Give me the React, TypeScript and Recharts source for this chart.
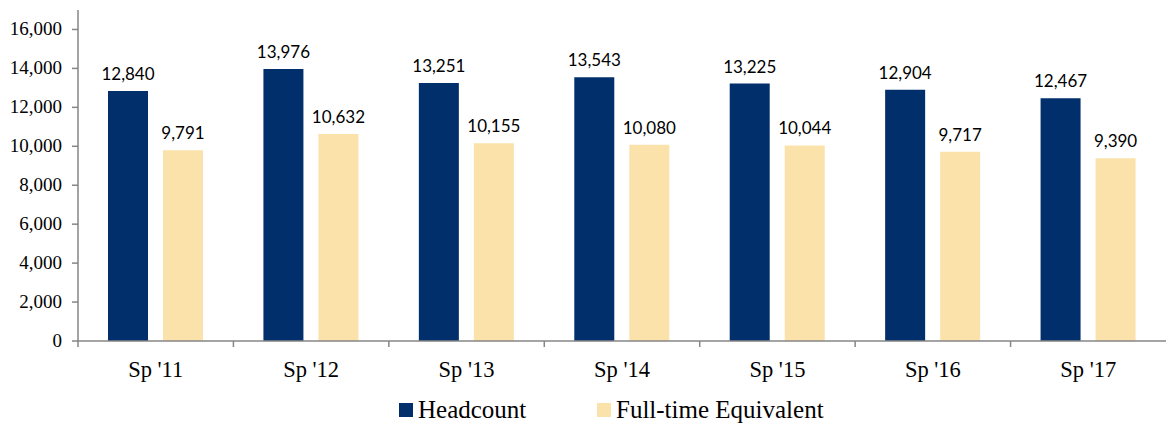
import React from 'react';
import { BarChart, Bar, XAxis, YAxis, Legend, LabelList } from 'recharts';

const categories = ["Sp '11", "Sp '12", "Sp '13", "Sp '14", "Sp '15", "Sp '16", "Sp '17"];
const headcount = [12840, 13976, 13251, 13543, 13225, 12904, 12467];
const fte = [9791, 10632, 10155, 10080, 10044, 9717, 9390];
const yTicks = [0, 2000, 4000, 6000, 8000, 10000, 12000, 14000, 16000];

const NAVY = '#002F6C';
const CREAM = '#FBE2AA';
const AXIS = '#868686';
const SERIF = '"Liberation Serif", "Times New Roman", serif';
const SANS = 'Lato, "Open Sans", sans-serif';

const W = 1166;
const H = 424;
const Y_AXIS_W = 78;
const BAND = (W - Y_AXIS_W) / categories.length;

const data = categories.map((c, i) => ({ cat: c, headcount: headcount[i], fte: fte[i] }));

const fmt = (v: any) => Number(v).toLocaleString('en-US');

const CatTick = ({ x, y, payload }: any) => (
  <g>
    <line x1={x - BAND / 2} x2={x - BAND / 2} y1={y} y2={y + 6} stroke={AXIS} strokeWidth={1.5} />
    <text x={x} y={y + 36} textAnchor="middle" fill="#000" style={{ fontFamily: SERIF, fontSize: 22.5 }}>
      {payload.value}
    </text>
  </g>
);

const ValTick = ({ x, y, payload }: any) => (
  <text x={x} y={y + 6} textAnchor="end" fill="#000" style={{ fontFamily: SERIF, fontSize: 19 }}>
    {fmt(payload.value)}
  </text>
);

const LegendBox = () => (
  <div style={{ position: 'relative', height: 43, fontFamily: SERIF, fontSize: 25, color: '#000' }}>
    {[
      { label: 'Headcount', color: NAVY, left: 399 },
      { label: 'Full-time Equivalent', color: CREAM, left: 597 },
    ].map((it) => (
      <div key={it.label} style={{ position: 'absolute', left: it.left, top: 15, display: 'flex', alignItems: 'center', lineHeight: '28px' }}>
        <span style={{ display: 'inline-block', width: 14, height: 14, background: it.color, marginRight: 5 }} />
        <span>{it.label}</span>
      </div>
    ))}
  </div>
);

export default function App() {
  return (
    <div style={{ position: 'absolute', left: 0, top: 0, width: W, height: H, background: '#fff' }}>
      <BarChart width={W} height={H} data={data} margin={{ top: 10, right: 0, left: 0, bottom: 0 }} barSize={40} barGap={15}>
        <XAxis
          dataKey="cat"
          height={40}
          axisLine={{ stroke: AXIS, strokeWidth: 1.5 }}
          tickLine={false}
          tickSize={0}
          tickMargin={0}
          tick={<CatTick />}
          interval={0}
        />
        <YAxis
          width={Y_AXIS_W}
          domain={[0, 17000]}
          ticks={yTicks}
          axisLine={{ stroke: AXIS, strokeWidth: 1.5 }}
          tickLine={{ stroke: AXIS, strokeWidth: 1.5 }}
          tickSize={6}
          tickMargin={10}
          tick={<ValTick />}
        />
        <Legend verticalAlign="bottom" height={43} content={<LegendBox />} />
        <Bar dataKey="headcount" fill={NAVY} isAnimationActive={false}>
          <LabelList dataKey="headcount" position="top" offset={11} formatter={fmt}
            style={{ fill: '#000', fontSize: 17, fontFamily: SANS }} />
        </Bar>
        <Bar dataKey="fte" fill={CREAM} isAnimationActive={false}>
          <LabelList dataKey="fte" position="top" offset={11} formatter={fmt}
            style={{ fill: '#000', fontSize: 17, fontFamily: SANS }} />
        </Bar>
      </BarChart>
    </div>
  );
}
